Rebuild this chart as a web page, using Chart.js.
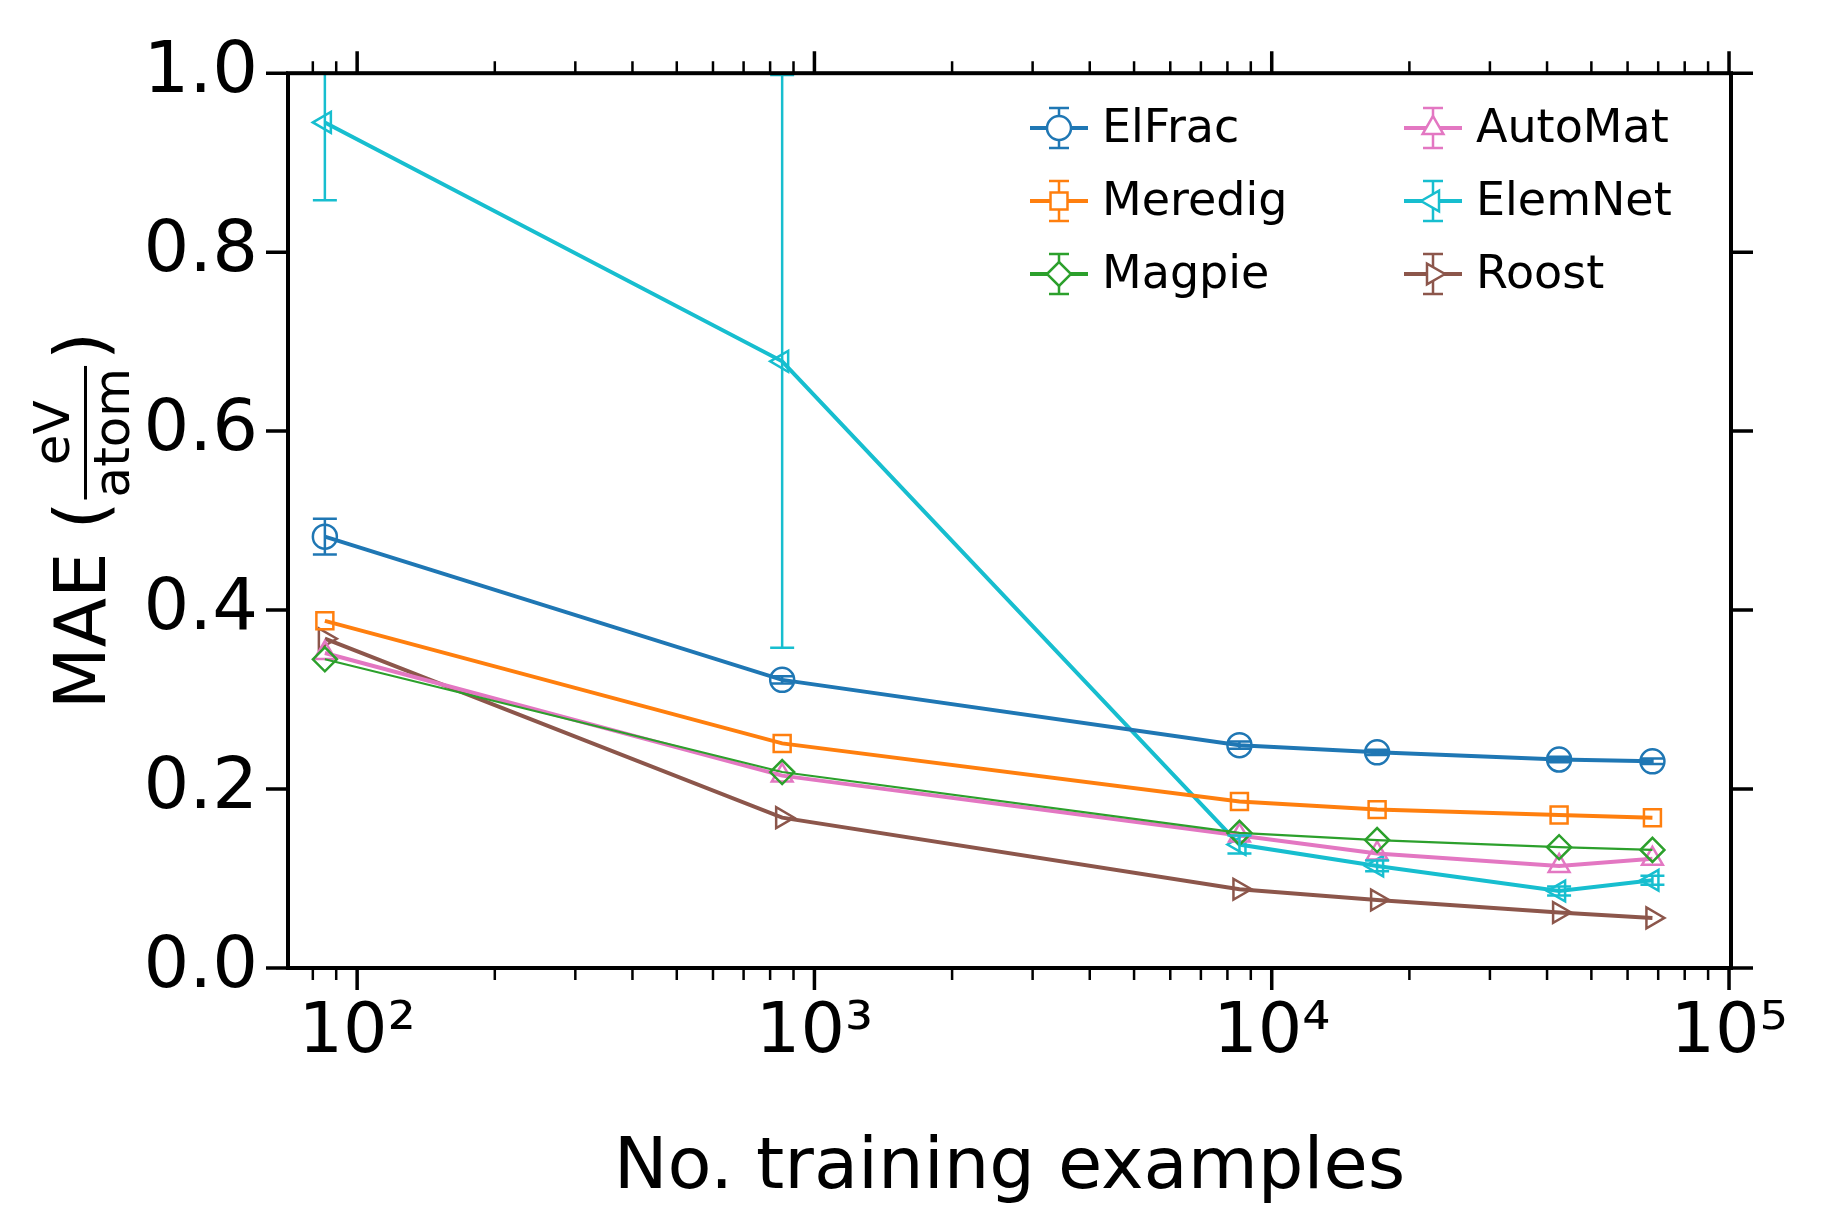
<!DOCTYPE html>
<html>
<head>
<meta charset="utf-8">
<script src="https://cdn.jsdelivr.net/npm/chart.js@4/dist/chart.umd.min.js"></script>
<style>
  body { margin: 0; background: #fff; }
  #wrap { width: 1830px; height: 1216px; }
</style>
</head>
<body>
<div id="wrap"><canvas id="c" width="1830" height="1216"></canvas></div>
<script>
'use strict'

let trainSizes = [85, 850, 8500, 17000, 42500, 68000];
let elFrac = [0.482, 0.322, 0.249, 0.241, 0.233, 0.231];
let meredig = [0.388, 0.251, 0.186, 0.177, 0.171, 0.168];
let magpie = [0.345, 0.219, 0.151, 0.143, 0.135, 0.132];
let autoMat = [0.352, 0.215, 0.148, 0.128, 0.114, 0.122];
let elemNet = [0.945, 0.678, 0.138, 0.114, 0.086, 0.098];
let roost = [0.368, 0.168, 0.088, 0.076, 0.062, 0.056];
let elFracErr = [0.02, 0.004, 0.004, 0.003, 0.003, 0.003];
let elemNetErr = [0.087, 0.32, 0.01, 0.006, 0.005, 0.005];
let yTicks = [0, 0.2, 0.4, 0.6, 0.8, 1.0];

const FONT = '"DejaVu Sans", sans-serif';

function makeSet(label, ys, color, style, rot, err) {
  return {
    label: label,
    data: trainSizes.map((x, i) => ({ x: x, y: ys[i] })),
    err: err,
    borderColor: color,
    backgroundColor: 'rgba(0,0,0,0)',
    pointStyle: style,
    pointRotation: rot,
    pointRadius: 12,
    pointBorderWidth: 2.5,
    borderWidth: 4,
    tension: 0,
  };
}

let datasets = [
  makeSet('ElFrac', elFrac, '#1f77b4', 'circle', 0, elFracErr),
  makeSet('Meredig', meredig, '#ff7f0e', 'rect', 0, null),
  makeSet('Magpie', magpie, '#2ca02c', 'rectRot', 0, null),
  makeSet('AutoMat', autoMat, '#e377c2', 'triangle', 0, null),
  makeSet('ElemNet', elemNet, '#17becf', 'triangle', -90, elemNetErr),
  makeSet('Roost', roost, '#8c564b', 'triangle', 90, null),
];
datasets[2].borderWidth = 2.2;

let extras = {
  id: 'extras',
  afterDatasetsDraw(chart) {
    let ctx = chart.ctx;
    let a = chart.chartArea;
    let xs = chart.scales.x, ys = chart.scales.y;
    ctx.save();
    ctx.beginPath();
    ctx.rect(a.left, a.top - 1, a.right - a.left, a.bottom - a.top + 2);
    ctx.clip();
    // error bars
    chart.data.datasets.forEach(ds => {
      if (!ds.err) return;
      ctx.strokeStyle = ds.borderColor;
      ctx.lineWidth = 2.5;
      ds.data.forEach((p, i) => {
        let px = xs.getPixelForValue(p.x);
        let y1 = ys.getPixelForValue(p.y - ds.err[i]);
        let y2 = ys.getPixelForValue(p.y + ds.err[i]);
        ctx.beginPath();
        ctx.moveTo(px, y1); ctx.lineTo(px, y2);
        ctx.moveTo(px - 12, y1); ctx.lineTo(px + 12, y1);
        ctx.moveTo(px - 12, y2); ctx.lineTo(px + 12, y2);
        ctx.stroke();
      });
    });
    ctx.restore();

    ctx.save();
    // frame
    ctx.strokeStyle = '#000';
    ctx.lineWidth = 4;
    ctx.strokeRect(a.left, a.top, a.right - a.left, a.bottom - a.top);
    // y ticks both sides, outward
    ctx.lineWidth = 3.5;
    yTicks.forEach(v => {
      let py = ys.getPixelForValue(v);
      ctx.beginPath();
      ctx.moveTo(a.left - 22, py); ctx.lineTo(a.left, py);
      ctx.moveTo(a.right, py); ctx.lineTo(a.right + 22, py);
      ctx.stroke();
    });
    // x ticks major + minor, top and bottom
    for (let d = 1; d <= 5; d++) {
      for (let m = 1; m <= 9; m++) {
        let v = m * Math.pow(10, d);
        if (v < xs.min || v > xs.max) continue;
        let px = xs.getPixelForValue(v);
        let len = m === 1 ? 22 : 12;
        ctx.lineWidth = m === 1 ? 3.5 : 2.5;
        ctx.beginPath();
        ctx.moveTo(px, a.bottom); ctx.lineTo(px, a.bottom + len);
        ctx.moveTo(px, a.top); ctx.lineTo(px, a.top - len);
        ctx.stroke();
      }
    }
    // y axis title with fraction
    ctx.fillStyle = '#000';
    ctx.translate(86, (a.top + a.bottom) / 2);
    ctx.rotate(-Math.PI / 2);
    ctx.font = '72px ' + FONT;
    ctx.textBaseline = 'middle';
    ctx.textAlign = 'left';
    let t1 = 'MAE (';
    let w1 = ctx.measureText(t1).width;
    ctx.font = '50px ' + FONT;
    let wFrac = ctx.measureText('atom').width;
    ctx.font = '72px ' + FONT;
    let w3 = ctx.measureText(')').width;
    let total = w1 + wFrac + 12 + w3;
    let sx = -total / 2;
    ctx.fillText(t1, sx, 0);
    ctx.font = '50px ' + FONT;
    ctx.textAlign = 'center';
    let cx = sx + w1 + wFrac / 2 + 4;
    ctx.fillText('eV', cx, -30);
    ctx.fillText('atom', cx, 30);
    ctx.fillRect(sx + w1 + 2, -2, wFrac + 4, 3);
    ctx.font = '72px ' + FONT;
    ctx.textAlign = 'left';
    ctx.fillText(')', sx + w1 + wFrac + 12, 0);
    ctx.restore();

    // legend
    ctx.save();
    ctx.font = '46px ' + FONT;
    ctx.textBaseline = 'middle';
    chart.data.datasets.forEach((ds, i) => {
      let col = Math.floor(i / 3), row = i % 3;
      let lx = 1030 + col * 374, ly = 128 + row * 73;
      ctx.strokeStyle = ds.borderColor;
      ctx.lineWidth = 4;
      ctx.beginPath();
      ctx.moveTo(lx, ly); ctx.lineTo(lx + 58, ly);
      ctx.stroke();
      ctx.lineWidth = 2.5;
      ctx.beginPath();
      ctx.moveTo(lx + 29, ly - 20); ctx.lineTo(lx + 29, ly + 20);
      ctx.moveTo(lx + 19, ly - 20); ctx.lineTo(lx + 39, ly - 20);
      ctx.moveTo(lx + 19, ly + 20); ctx.lineTo(lx + 39, ly + 20);
      ctx.stroke();
      ctx.fillStyle = '#fff';
      Chart.helpers.drawPoint(ctx, { pointStyle: ds.pointStyle, rotation: ds.pointRotation, radius: 12, borderWidth: 2.5 }, lx + 29, ly);
      ctx.fillStyle = '#000';
      ctx.fillText(ds.label, lx + 72, ly + 2);
    });
    ctx.restore();
  }
};

let supers = { 2: '²', 3: '³', 4: '⁴', 5: '⁵' };

new Chart(document.getElementById('c'), {
  type: 'line',
  data: { datasets: datasets },
  options: {
    responsive: false,
    animation: false,
    layout: { padding: { top: 52, right: 99, left: 0, bottom: 0 } },
    plugins: { legend: { display: false }, tooltip: { enabled: false } },
    scales: {
      x: {
        type: 'logarithmic',
        min: 70.6,
        max: 101000,
        grid: { display: false, drawTicks: false },
        border: { display: false },
        afterFit: s => { s.height = 248; },
        ticks: {
          autoSkip: false,
          maxRotation: 0,
          padding: 24,
          color: '#000',
          font: { family: FONT, size: 70 },
          callback: v => {
            let e = Math.log10(v);
            return Math.abs(e - Math.round(e)) < 1e-9 ? '10' + supers[Math.round(e)] : '';
          }
        },
        title: {
          display: true,
          text: 'No. training examples',
          color: '#000',
          font: { family: FONT, size: 72 },
          padding: { top: -14 }
        }
      },
      y: {
        min: 0,
        max: 1,
        afterFit: s => { s.width = 288; },
        grid: { display: false, drawTicks: false },
        border: { display: false },
        ticks: {
          stepSize: 0.2,
          padding: 30,
          color: '#000',
          font: { family: FONT, size: 72 },
          callback: v => v.toFixed(1)
        }
      }
    }
  },
  plugins: [extras]
});
</script>
</body>
</html>
